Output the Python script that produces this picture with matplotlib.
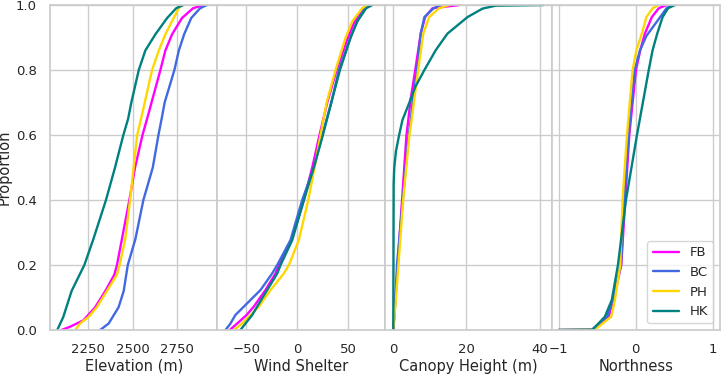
import matplotlib
matplotlib.use("Agg")
import matplotlib.pyplot as plt
import seaborn as sns

SITES = ["FB", "BC", "PH", "HK"]
COLORS = {"FB": "#ff00ff", "BC": "#4169e1", "PH": "#ffd700", "HK": "#008080"}

# quantiles: value at each proportion
ELEV_P = {
    "FB": [0, 0.01, 0.03, 0.07, 0.12, 0.17, 0.2, 0.28, 0.4, 0.5, 0.6, 0.65, 0.8, 0.86, 0.91, 0.96, 0.99, 1.0],
    "BC": [0, 0.02, 0.07, 0.12, 0.2, 0.28, 0.4, 0.5, 0.6, 0.65, 0.7, 0.8, 0.86, 0.91, 0.96, 0.99, 1.0],
    "PH": [0, 0.02, 0.04, 0.07, 0.12, 0.17, 0.2, 0.28, 0.4, 0.5, 0.6, 0.65, 0.8, 0.86, 0.91, 0.96, 0.99, 1.0],
    "HK": [0, 0.04, 0.12, 0.2, 0.28, 0.4, 0.5, 0.6, 0.65, 0.7, 0.8, 0.86, 0.91, 0.96, 0.99, 1.0],
}
ELEV_X = {
    "FB": [2098, 2146, 2222, 2288, 2345, 2396, 2411, 2439, 2481, 2513, 2555, 2581, 2656, 2684, 2722, 2778, 2840, 2900],
    "BC": [2316, 2364, 2420, 2449, 2472, 2515, 2560, 2613, 2645, 2663, 2680, 2735, 2760, 2790, 2830, 2880, 2918],
    "PH": [2175, 2203, 2250, 2297, 2354, 2411, 2426, 2458, 2485, 2505, 2525, 2547, 2609, 2647, 2684, 2731, 2760, 2775],
    "HK": [2074, 2108, 2155, 2227, 2278, 2349, 2400, 2447, 2474, 2492, 2534, 2571, 2628, 2694, 2745, 2785],
}

WIND_P = [0, 0.02, 0.046, 0.072, 0.123, 0.174, 0.2, 0.277, 0.4, 0.5, 0.6, 0.7, 0.8, 0.9, 0.95, 0.99, 1.0]
WIND_X = {
    "FB": [-66.5, -59.2, -50, -42.8, -31.3, -21.4, -18.1, -5.6, 6.6, 14.8, 22, 29.6, 38.8, 50, 56.6, 66, 70.7],
    "BC": [-70.7, -65.8, -61, -52.6, -36.2, -24.7, -19.7, -6.6, 4.9, 16.4, 24.7, 33.6, 41.1, 52.6, 59.2, 67, 72],
    "PH": [-62.5, -54.3, -46, -37.8, -26.3, -13.2, -8.2, 1.6, 10.9, 17.1, 23, 29, 37.8, 47.7, 54.3, 64, 69],
    "HK": [-56, -51, -44.4, -39.5, -29.6, -19.7, -16.4, -4.9, 6.6, 16.4, 25.3, 33.6, 42.1, 52.6, 59.2, 68, 74],
}

CANOPY_P = {
    "FB": [0, 0.092, 0.2, 0.4, 0.6, 0.646, 0.707, 0.8, 0.912, 0.963, 0.99, 1.0],
    "BC": [0, 0.092, 0.2, 0.4, 0.6, 0.646, 0.707, 0.8, 0.912, 0.963, 0.99, 1.0],
    "PH": [0, 0.092, 0.2, 0.4, 0.6, 0.646, 0.707, 0.8, 0.912, 0.963, 0.99, 1.0],
    "HK": [0, 0.45, 0.5, 0.55, 0.6, 0.646, 0.7, 0.748, 0.8, 0.861, 0.912, 0.963, 0.989, 0.998, 1.0],
}
CANOPY_X = {
    "FB": [0, 0.55, 1.2, 2.4, 3.6, 4.1, 4.7, 6.0, 7.5, 8.7, 10.7, 18],
    "BC": [0, 0.6, 1.0, 2.6, 4.2, 4.8, 5.3, 6.5, 7.5, 8.5, 11.0, 13],
    "PH": [0, 0.7, 1.4, 2.7, 4.4, 5.0, 5.7, 6.8, 8.2, 9.8, 12.5, 15.3],
    "HK": [0, 0.1, 0.27, 0.73, 1.6, 2.5, 4.4, 6.0, 8.5, 11.6, 14.8, 20.3, 24.4, 28, 41],
}

NORTH_P = {
    "FB": [0, 0.001, 0.041, 0.092, 0.2, 0.4, 0.6, 0.8, 0.861, 0.912, 0.963, 0.99, 1.0],
    "BC": [0, 0.001, 0.041, 0.092, 0.2, 0.4, 0.6, 0.8, 0.861, 0.905, 0.97, 0.99, 1.0],
    "PH": [0, 0.001, 0.041, 0.092, 0.2, 0.4, 0.6, 0.8, 0.861, 0.912, 0.963, 0.99, 1.0],
    "HK": [0, 0.001, 0.041, 0.092, 0.2, 0.4, 0.6, 0.8, 0.861, 0.912, 0.963, 0.99, 1.0],
}
NORTH_X = {
    "FB": [-1, -0.55, -0.35, -0.29, -0.187, -0.135, -0.083, 0.004, 0.06, 0.12, 0.21, 0.30, 0.40],
    "BC": [-1, -0.57, -0.37, -0.30, -0.19, -0.148, -0.09, -0.013, 0.057, 0.14, 0.34, 0.40, 0.47],
    "PH": [-1, -0.53, -0.317, -0.27, -0.20, -0.17, -0.113, -0.04, 0.01, 0.08, 0.14, 0.22, 0.30],
    "HK": [-1, -0.56, -0.40, -0.31, -0.23, -0.126, 0.017, 0.17, 0.22, 0.28, 0.35, 0.42, 0.51],
}

PANELS = [
    ("Elevation (m)", ELEV_P, ELEV_X, (2033, 2978), [2250, 2500, 2750]),
    ("Wind Shelter", {s: WIND_P for s in SITES}, WIND_X, (-78.6, 86.5), [-50, 0, 50]),
    ("Canopy Height (m)", CANOPY_P, CANOPY_X, (-2.27, 43.5), [0, 20, 40]),
    ("Northness", NORTH_P, NORTH_X, (-1.08, 1.095), [-1, 0, 1]),
]

sns.set_theme(style="whitegrid")
plt.rcParams.update({
    "xtick.labelsize": 9.5,
    "ytick.labelsize": 9.5,
    "axes.labelsize": 10.5,
    "legend.fontsize": 9.5,
})

fig, axes = plt.subplots(1, 4, sharey=True, figsize=(7.21, 3.74), dpi=100)
fig.subplots_adjust(left=0.0693, right=0.9986, bottom=0.1176, top=0.9866, wspace=0)

for ax, (label, props, values, xlim, ticks) in zip(axes, PANELS):
    for site in SITES:
        ax.plot(values[site], props[site], color=COLORS[site], lw=1.7, label=site)
    ax.set_xlim(*xlim)
    ax.set_xticks(ticks)
    ax.set_xlabel(label, labelpad=2)
    ax.set_ylim(0, 1)

axes[0].set_ylabel("Proportion", labelpad=3)
axes[3].legend(loc="lower right")

plt.savefig("out.png")
